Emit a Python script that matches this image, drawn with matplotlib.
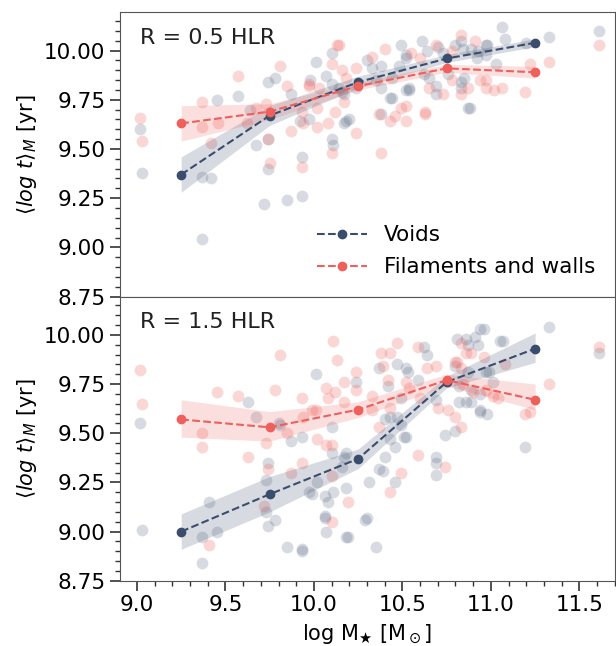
from matplotlib import pyplot as plt
from matplotlib.ticker import MultipleLocator

# =============================================================================
# Data
# =============================================================================
bins = [9.25, 9.75, 10.25, 10.75, 11.25]

# R = 0.5 HLR
top_void_x = [9.02, 9.03, 9.37, 9.37, 9.42, 9.45, 9.57, 9.64, 9.67, 9.74, 9.78, 9.74, 9.72,
              9.74, 9.85, 9.93, 9.93, 9.87, 10.01, 9.98, 9.97, 10.10, 10.07, 10.10, 9.92,
              10.10, 10.11, 10.16, 10.18, 10.30, 10.49, 10.52, 10.52, 10.61, 10.64, 10.70,
              10.73, 10.83, 10.84, 10.89, 10.93, 10.97, 10.33, 10.38, 10.48, 10.44, 10.52,
              10.54, 10.43, 10.38, 10.24, 10.14, 10.17, 10.35, 10.38, 10.20, 10.17, 10.62,
              10.65, 10.69, 10.69, 10.76, 10.83, 10.83, 10.87, 10.85, 10.92, 10.97, 11.06,
              11.08, 11.33, 11.61, 10.88, 11.03, 10.98, 10.54, 10.44, 10.80, 11.20]
top_void_y = [9.60, 9.38, 9.04, 9.36, 9.35, 9.75, 9.77, 9.70, 9.52, 9.84, 9.86, 9.40, 9.22,
              9.55, 9.24, 9.26, 9.46, 9.78, 9.94, 9.85, 9.65, 9.99, 9.87, 9.83, 9.64,
              9.55, 9.52, 9.79, 9.64, 9.95, 10.03, 9.98, 9.96, 10.05, 10.00, 10.02,
              9.99, 10.05, 10.01, 10.01, 10.00, 10.03, 9.91, 9.92, 9.92, 9.86, 9.80,
              9.81, 9.76, 9.81, 9.81, 9.81, 9.78, 9.85, 9.68, 9.65, 9.63, 9.88,
              9.86, 9.82, 9.78, 9.88, 9.84, 9.81, 9.71, 9.86, 9.96, 9.98, 10.12,
              10.06, 10.07, 10.10, 9.71, 9.93, 10.03, 9.80, 9.76, 10.03, 10.04]
top_fil_x = [9.02, 9.03, 9.37, 9.37, 9.42, 9.46, 9.57, 9.62, 9.67, 9.73, 9.74, 9.75, 9.81,
             9.85, 9.87, 9.93, 9.94, 9.97, 10.02, 10.08, 10.10, 10.13, 10.10, 10.16, 9.97,
             10.03, 10.12, 9.93, 10.02, 10.14, 10.24, 10.18, 10.24, 10.38, 10.37, 10.43,
             10.46, 10.52, 10.63, 10.65, 10.73, 10.78, 10.83, 10.78, 10.91, 10.87, 10.94,
             10.97, 10.60, 10.69, 10.55, 10.33, 10.40, 10.17, 11.22, 11.33, 11.61, 11.19,
             11.06, 11.02, 10.97, 10.83, 10.63, 10.49, 10.52]
top_fil_y = [9.66, 9.54, 9.74, 9.61, 9.53, 9.63, 9.87, 9.63, 9.71, 9.73, 9.55, 9.43, 9.92,
             9.82, 9.59, 9.41, 9.63, 9.82, 9.61, 9.63, 9.48, 10.03, 9.93, 9.90, 9.83,
             9.81, 9.69, 9.69, 9.71, 10.03, 9.91, 9.86, 9.58, 9.48, 9.68, 9.64,
             9.67, 9.72, 9.68, 9.81, 9.78, 9.85, 10.08, 10.00, 10.05, 9.81, 9.85,
             9.81, 9.96, 10.03, 9.99, 9.97, 10.01, 9.74, 9.93, 9.94, 10.03, 9.79,
             9.81, 9.80, 9.85, 9.78, 9.69, 9.71, 9.64]
top_void_med = [9.37, 9.67, 9.84, 9.96, 10.04]
top_void_lo = [9.28, 9.62, 9.81, 9.94, 10.02]
top_void_hi = [9.46, 9.72, 9.87, 9.98, 10.06]
top_fil_med = [9.63, 9.69, 9.82, 9.91, 9.89]
top_fil_lo = [9.54, 9.65, 9.80, 9.89, 9.86]
top_fil_hi = [9.72, 9.73, 9.84, 9.93, 9.92]

# R = 1.5 HLR
bot_void_x = [9.02, 9.03, 9.37, 9.37, 9.41, 9.45, 9.63, 9.67, 9.74, 9.73, 9.73, 9.74, 9.78,
              9.81, 9.87, 9.85, 9.93, 9.93, 9.93, 9.97, 9.99, 10.01, 9.80, 10.10, 10.10,
              10.02, 10.06, 10.08, 10.11, 10.06, 10.07, 10.18, 10.18, 10.17, 10.16, 10.18,
              10.24, 10.30, 10.31, 10.37, 10.39, 10.40, 10.37, 10.42, 10.47, 10.52, 10.53,
              10.43, 10.47, 10.49, 10.52, 10.46, 10.43, 10.40, 10.49, 10.59, 10.62, 10.64,
              10.69, 10.69, 10.69, 10.69, 10.74, 10.80, 10.81, 10.86, 10.91, 10.94, 10.87,
              10.93, 10.82, 10.89, 10.86, 10.94, 10.80, 10.87, 10.97, 10.96, 11.05, 11.07,
              11.33, 11.61, 11.19, 11.01, 10.99, 10.94, 10.89, 10.94, 10.98, 10.82, 10.29,
              10.35, 10.19, 10.46, 10.51, 10.06]
bot_void_y = [9.55, 9.01, 8.84, 8.97, 9.15, 9.00, 9.66, 9.58, 9.35, 9.26, 9.10, 9.03, 9.06,
              9.54, 9.46, 8.92, 9.48, 8.91, 8.90, 9.20, 9.19, 9.80, 9.55, 9.53, 9.40,
              9.25, 9.18, 9.15, 9.20, 9.08, 9.00, 8.97, 9.22, 9.38, 9.33, 9.40,
              9.76, 9.07, 9.25, 9.32, 9.31, 9.38, 9.83, 9.74, 9.85, 9.83, 9.81,
              9.58, 9.58, 9.54, 9.48, 9.43, 9.47, 9.57, 9.68, 9.77, 9.94, 9.90,
              9.67, 9.35, 9.38, 9.29, 9.49, 9.51, 9.98, 9.98, 9.99, 10.03, 9.95,
              9.95, 9.74, 9.72, 9.66, 9.62, 9.84, 9.81, 9.81, 10.03, 9.97, 9.97,
              10.04, 9.91, 9.43, 9.76, 9.81, 9.70, 9.66, 9.61, 9.60, 9.66, 9.06,
              8.92, 8.97, 9.25, 9.48, 9.07]
bot_fil_x = [9.02, 9.03, 9.37, 9.37, 9.41, 9.45, 9.57, 9.63, 9.73, 9.74, 9.72, 9.78, 9.81,
             9.85, 9.87, 9.93, 9.93, 9.94, 9.99, 10.01, 10.11, 10.13, 10.07, 10.12, 10.17,
             10.17, 10.08, 10.02, 10.07, 10.10, 10.10, 10.10, 10.19, 10.24, 10.24, 10.33,
             10.38, 10.43, 10.47, 10.59, 10.39, 10.42, 10.64, 10.69, 10.52, 10.54, 10.33,
             10.37, 10.43, 10.60, 10.70, 10.76, 10.80, 10.83, 10.59, 10.74, 10.49, 10.43,
             10.83, 10.84, 10.90, 10.96, 10.86, 10.81, 10.83, 10.89, 10.80, 11.08, 11.22,
             11.19, 11.33, 11.61, 10.97, 11.01, 11.04]
bot_fil_y = [9.82, 9.65, 9.50, 9.43, 8.93, 9.71, 9.69, 9.38, 9.45, 9.32, 9.13, 9.72, 9.90,
             9.50, 9.30, 9.68, 9.35, 9.58, 9.62, 9.62, 9.97, 9.87, 9.73, 9.71, 9.76,
             9.66, 9.68, 9.47, 9.44, 9.44, 9.28, 9.05, 9.15, 9.81, 9.72, 9.69,
             9.91, 9.91, 9.96, 9.94, 9.84, 9.77, 9.83, 9.84, 9.76, 9.73, 9.62,
             9.53, 9.63, 9.68, 9.63, 9.62, 9.58, 9.53, 9.39, 9.33, 9.30, 9.20,
             9.83, 9.75, 9.71, 9.89, 9.91, 9.86, 9.96, 9.91, 9.86, 9.85, 9.61,
             9.60, 9.75, 9.94, 9.72, 9.69, 9.68]
bot_void_med = [9.00, 9.19, 9.37, 9.76, 9.93]
bot_void_lo = [8.91, 9.10, 9.32, 9.73, 9.86]
bot_void_hi = [9.09, 9.28, 9.42, 9.79, 10.01]
bot_fil_med = [9.57, 9.53, 9.62, 9.77, 9.67]
bot_fil_lo = [9.48, 9.46, 9.58, 9.74, 9.62]
bot_fil_hi = [9.67, 9.61, 9.66, 9.80, 9.75]

void_color = '#3b4d6d'
fil_color = '#ef5f5b'


# =============================================================================
# Plot
# =============================================================================
def panel(ax, vx, vy, fx, fy, vmed, vlo, vhi, fmed, flo, fhi, title):
    ax.scatter(vx, vy, s=72, color=void_color, alpha=0.2, linewidths=0)
    ax.scatter(fx, fy, s=72, color=fil_color, alpha=0.25, linewidths=0)
    ax.fill_between(bins, vlo, vhi, color=void_color, alpha=0.2, linewidth=0)
    ax.fill_between(bins, flo, fhi, color=fil_color, alpha=0.2, linewidth=0)
    ax.plot(bins, vmed, '--o', color=void_color, ms=6, lw=1.5, label='Voids')
    ax.plot(bins, fmed, '--o', color=fil_color, ms=6, lw=1.5, label='Filaments and walls')
    ax.text(0.04, 0.945, title, transform=ax.transAxes, fontsize=16, va='top', color='#222222')
    ax.set_ylim(8.75, 10.195)
    ax.set_yticks([8.75, 9.0, 9.25, 9.5, 9.75, 10.0])
    ax.yaxis.set_minor_locator(MultipleLocator(0.05))
    ax.xaxis.set_minor_locator(MultipleLocator(0.1))
    ax.set_ylabel(r'$\langle log\ t\rangle_M$ [yr]', fontsize=15)
    ax.tick_params(which='major', length=7, width=1.2, labelsize=15.5, color='#333333')
    ax.tick_params(which='minor', length=3.5, width=1, color='#333333')
    for s in ax.spines.values():
        s.set_color('#555555')


fig, (ax1, ax2) = plt.subplots(2, 1, sharex=True, figsize=(6.16, 6.46), dpi=100)
fig.subplots_adjust(left=0.195, right=0.998, top=0.981, bottom=0.101, hspace=0)

panel(ax1, top_void_x, top_void_y, top_fil_x, top_fil_y,
      top_void_med, top_void_lo, top_void_hi, top_fil_med, top_fil_lo, top_fil_hi, 'R = 0.5 HLR')
panel(ax2, bot_void_x, bot_void_y, bot_fil_x, bot_fil_y,
      bot_void_med, bot_void_lo, bot_void_hi, bot_fil_med, bot_fil_lo, bot_fil_hi, 'R = 1.5 HLR')

ax1.legend(loc='lower right', bbox_to_anchor=(1.0, 0.0), frameon=False, fontsize=15.5,
           handlelength=2.3, labelspacing=0.55)
ax2.set_xlim(8.905, 11.70)
ax2.set_xticks([9.0, 9.5, 10.0, 10.5, 11.0, 11.5])
ax2.set_xlabel('log M$_{\u2605}$ [M$_\\odot$]', fontsize=15)
ax2.xaxis.labelpad = 5

plt.savefig('out.png')
